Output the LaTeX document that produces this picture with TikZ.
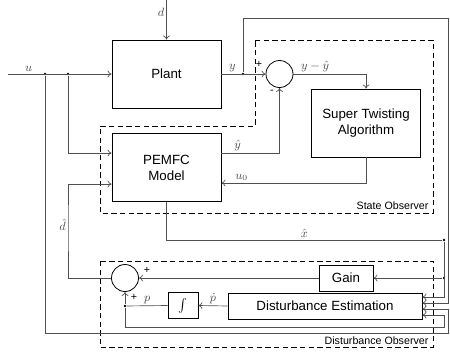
\documentclass[tikz,border=0pt]{standalone}
\usepackage{fontspec}
\setsansfont{Liberation Sans}
\usepackage{amsmath}
\usetikzlibrary{positioning, arrows.meta, calc}
\definecolor{sigGray}{RGB}{80, 80, 80}
\tikzset{
  blk/.style={rectangle, draw=black, line width=0.6pt, fill=white, align=center,
    minimum width=81.75pt, minimum height=51pt, inner sep=2pt, font=\sffamily},
  gainbox/.style={blk, minimum width=40.5pt, minimum height=19.5pt},
  intbox/.style={blk, minimum width=22.5pt, minimum height=20pt},
  estbox/.style={blk, minimum width=145.5pt, minimum height=19.5pt},
  sumnode/.style={circle, draw=black, line width=0.6pt, minimum size=20.25pt, inner sep=0pt},
  sig/.style={-{To[length=3pt, width=5pt]}, line width=0.5pt, sigGray},
  wire/.style={line width=0.5pt, sigGray},
  obsline/.style={dashed, line width=0.7pt, dash pattern=on 4pt off 2.5pt},
  lbl/.style={font=\small, text=sigGray, inner sep=1.5pt},
  sgn/.style={font=\footnotesize\sffamily, inner sep=0pt},
  jdot/.style={circle, fill=black, inner sep=0pt, minimum size=2.2pt},
}

\begin{document}
\begin{tikzpicture}[x=0.75pt, y=-0.75pt]
    \useasboundingbox (0,0) rectangle (450,354);
    % observer regions
    \draw[obsline] (255,40) -- (433,40) -- (433,213) -- (100,213) -- (100,126) -- (255,126) -- cycle;
    \draw[obsline] (100,261) rectangle (433,347);
    \node[font=\sffamily\footnotesize, anchor=base east, inner sep=1pt] (solbl) at (430,209) {State Observer};
    \node[font=\sffamily\footnotesize, anchor=base east, inner sep=1pt] (dolbl) at (430,344) {Disturbance Observer};

    % blocks
    \node[blk] (plant) at (166.5,74) {Plant};
    \node[blk] (sta) at (366,123) {Super Twisting\\Algorithm};
    \node[blk] (model) at (166.5,167.5) {PEMFC\\Model};
    \node[sumnode] (sum1) at (279.5,74) {};
    \node[sumnode] (sum2) at (125,278) {};
    \node[gainbox] (gain) at (346,278) {Gain};
    \node[intbox] (integ) at (183,305.5) {$\int$};
    \node[estbox] (dest) at (325,306) {Disturbance Estimation};

    % junctions
    \coordinate (din) at (166.5,0);
    \coordinate (uin) at (8,74);
    \node[jdot] (j1) at (45,74) {};
    \node[jdot] (j2) at (68,74) {};
    \node[jdot] (jy) at (243,74) {};
    \node[jdot] (jx) at (444,240) {};
    \node[jdot] (jg) at (444,278) {};
    \node[jdot] (jp) at (125,306) {};

    % plant side
    \draw[sig] (din) -- node[lbl, left, pos=0.3] {$d$} (plant);
    \draw[sig] (uin) -- node[lbl, above, pos=0.2] {$u$} (plant.west);
    \draw[sig] (j2) |- ($(model.west)+(0,-14.5)$);
    \draw[sig] (plant.east) -- node[lbl, above, pos=0.25] {$y$} (sum1.west);
    \node[sgn] (p1) at (259,64) {+};
    \node[sgn] (m1) at (272,92) {-};

    % state observer
    \draw[sig] (sum1.east) -| node[lbl, above, pos=0.15] {$y-\hat{y}$} (sta.north);
    \draw[sig] (sta.south) |- node[lbl, above, pos=0.93] {$u_0$} ($(model.east)+(0,15.5)$);
    \draw[sig] ($(model.east)+(0,-14.5)$) -| node[lbl, above, pos=0.14] {$\hat{y}$} (sum1.south);

    % feedback lines into the estimator
    \draw[sig] (jy) |- (448,18) |- ($(dest.east)+(0,-3)$);
    \draw[wire] (model.south) |- node[lbl, above, pos=0.75] {$\hat{x}$} (jx);
    \draw[sig] (jx) |- ($(dest.east)+(0,-9)$);
    \draw[sig] (jg) -- (gain.east);
    \draw[sig] (j1) |- (448,333) |- ($(dest.east)+(0,3)$);
    \draw[sig] (jp) |- (444,327) |- ($(dest.east)+(0,9)$);

    % disturbance observer
    \draw[sig] (gain.west) -- (sum2.east);
    \node[sgn] (p2) at (147,270) {+};
    \draw[sig] (dest.west) -- node[lbl, above] {$\dot{p}$} (integ.east);
    \draw[wire] (integ.west) -- node[lbl, above] {$p$} (jp);
    \draw[sig] (jp) -- (sum2.south);
    \node[sgn] (p3) at (134,297) {+};
    \draw[sig] (sum2.west) -| (68,225) node[lbl, left] {$\hat{d}$} |- ($(model.west)+(0,16.5)$);
\end{tikzpicture}
\end{document}
